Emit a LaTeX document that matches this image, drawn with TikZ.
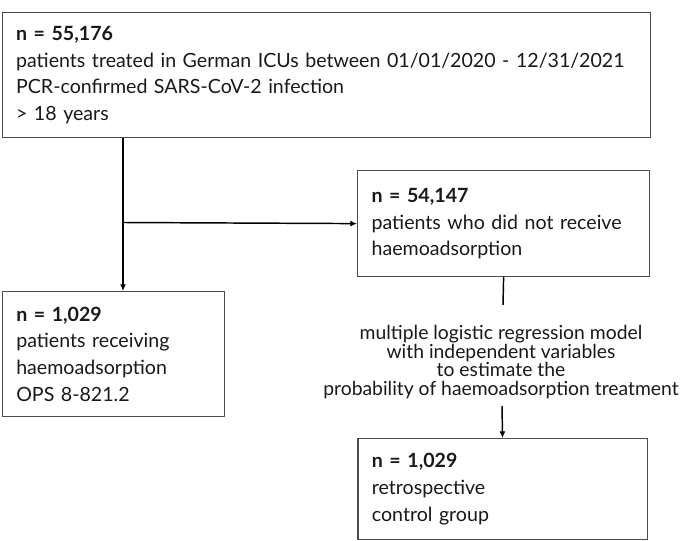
\documentclass[tikz,border=0pt]{standalone}
\usepackage{fontspec}
\setmainfont{Lato}
\usetikzlibrary{arrows.meta}

\tikzset{
  box/.style={draw=black!70, line width=0.9pt, anchor=north west, align=left,
    inner xsep=10.5pt, inner ysep=0pt, text=black!90,
    font=\fontsize{14.7}{20}\selectfont},
  flow/.style={line width=1.1pt, -{Latex[length=5pt,width=4.5pt]}},
}

\begin{document}
\begin{tikzpicture}[x=0.75pt,y=0.75pt,yscale=-1]
\useasboundingbox (0,0) rectangle (685,541);
\fill[white] (0,0) rectangle (685,541);

%Shape: Rectangle [all patients]
\node[box, text width=465pt, minimum height=94pt] (all) at (1.5,11.7)
  {\textbf{n = 55,176}\\
   patients treated in German ICUs between 01/01/2020 - 12/31/2021\\
   PCR-confirmed SARS-CoV-2 infection\\
   > 18 years};

%Shape: Rectangle [no haemoadsorption]
\node[box, text width=198pt, minimum height=79.5pt] (nohp) at (357,170)
  {\textbf{n = 54,147}\\
   patients who did not receive\\
   haemoadsorption};

%Shape: Rectangle [haemoadsorption]
\node[box, text width=145.5pt, minimum height=93.8pt] (hp) at (1.7,291)
  {\textbf{n = 1,029}\\
   patients receiving\\
   haemoadsorption\\
   OPS 8-821.2};

%Shape: Rectangle [control group]
\node[box, text width=196pt, minimum height=75.8pt] (ctrl) at (357.3,438)
  {\textbf{n = 1,029}\\
   retrospective\\
   control group};

% Text Node
\node[align=center, inner sep=0pt, text=black!90,
  font=\fontsize{14.5}{14}\selectfont] (model) at (501,362)
  {multiple logistic regression model\\
   with independent variables\\
   to estimate the\\
   probability of haemoadsorption treatment};

\coordinate (split) at (123,222.5);
\coordinate (mtop) at (503,305);
\coordinate (mbot) at (502,406);

%Straight Lines
\draw[flow] (all.south -| split) -- (split |- hp.north);
\draw[flow] (split) -- (nohp.west);
\draw[line width=1.1pt] (nohp.south) -- (mtop);
\draw[flow] (mbot) -- (ctrl.north);

\end{tikzpicture}
\end{document}
